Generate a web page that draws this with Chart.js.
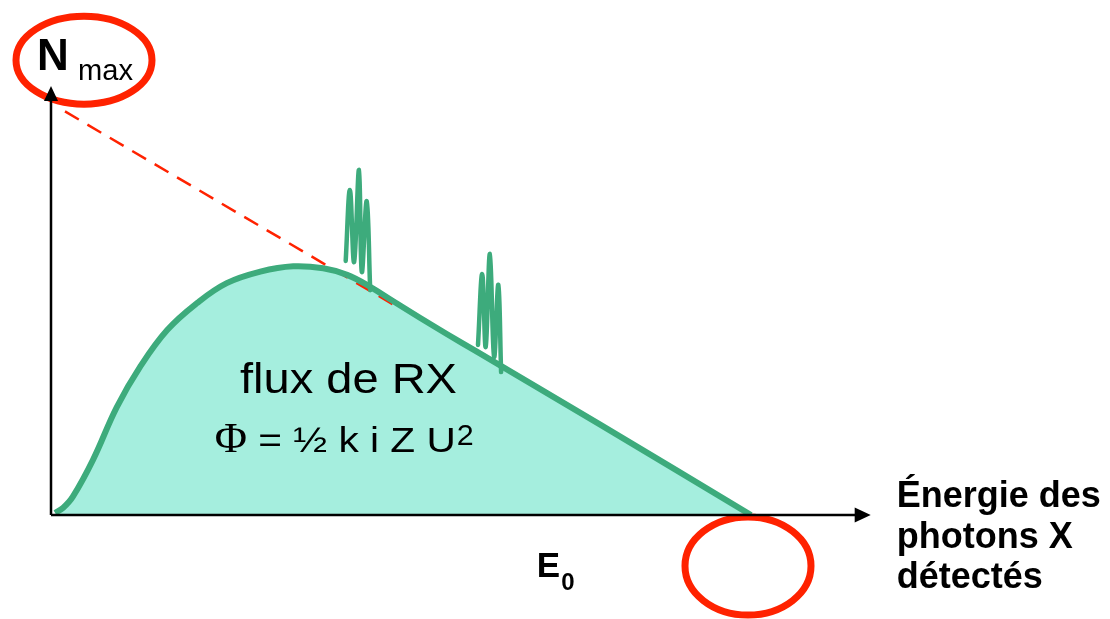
<!DOCTYPE html>
<html lang="fr">
<head>
<meta charset="utf-8">
<title>Spectre des photons X</title>
<script src="https://cdn.jsdelivr.net/npm/chart.js@4.4.1/dist/chart.umd.min.js"></script>
<style>
  html, body { margin: 0; padding: 0; background: #fff; }
  #wrap { width: 1110px; height: 619px; position: relative; }
</style>
</head>
<body>
<div id="wrap"><canvas id="spectrumChart"></canvas></div>
<script>
// Continuous (braking) spectrum: photon count vs energy, E0 = 100
const energy  = [0.6, 1.7, 3.1, 6.0, 9.4, 12.7, 16.6, 20.9, 25.1, 29.9, 34.6, 38.9, 42.3, 45.6, 48.9, 52.7, 56.6, 60.9, 78.4, 100];
const photons = [0.5, 1.7, 4.4, 13.4, 26.2, 35.9, 44.9, 51.5, 56.3, 59.1, 60.4, 59.9, 58.3, 55.4, 51.9, 47.9, 43.9, 39.6, 22.0, 0];

// Kramers line, dashed, from Nmax down to where it meets the curve
const kramersE = [2, 50];
const kramersN = [98, 50];

// Characteristic lines (two groups of three peaks)
const peaks1E = [42.1, 42.7, 43.3, 44.0, 44.4, 45.1, 45.6];
const peaks1N = [61.7, 78.9, 61.4, 83.8, 59.0, 76.2, 54.6];
const peaks2E = [61.0, 61.6, 62.1, 62.7, 63.3, 63.9, 64.3];
const peaks2N = [41.3, 58.5, 40.8, 63.4, 38.4, 55.9, 34.7];

const nMax = 100;
const e0 = 100;

const GREEN = '#3dab7c';
const FILL = '#a5eede';
const RED = '#ff2200';

const pts = (xs, ys) => xs.map((x, i) => ({ x: x, y: ys[i] }));

function drawText(ctx, str, x, y, font, sx, align) {
    ctx.save();
    ctx.font = font;
    ctx.textBaseline = 'alphabetic';
    ctx.textAlign = align || 'left';
    ctx.translate(x, y);
    ctx.scale(sx, 1);
    ctx.fillText(str, 0, 0);
    const w = ctx.measureText(str).width * sx;
    ctx.restore();
    return w;
}

function ellipse(ctx, cx, cy, rx, ry) {
    ctx.beginPath();
    ctx.ellipse(cx, cy, rx, ry, 0, 0, Math.PI * 2);
    ctx.stroke();
}

const sketch = {
    id: 'sketch',
    beforeDatasetsDraw(chart) {
        const ctx = chart.ctx;
        const xs = chart.scales.x, ys = chart.scales.y;
        ctx.save();
        ctx.strokeStyle = RED;
        ctx.lineWidth = 7;
        // around Nmax and around E0
        ellipse(ctx, xs.getPixelForValue(0) + 33, ys.getPixelForValue(nMax) - 43, 68, 44);
        ellipse(ctx, xs.getPixelForValue(e0) - 3, ys.getPixelForValue(0) + 51, 63, 49);
        ctx.restore();
    },
    afterDraw(chart) {
        const ctx = chart.ctx;
        const xs = chart.scales.x, ys = chart.scales.y;
        const x0 = xs.getPixelForValue(0), y0 = ys.getPixelForValue(0);
        const yTop = ys.getPixelForValue(104.2);
        const xEnd = xs.getPixelForValue(117.1);

        ctx.save();
        ctx.strokeStyle = '#000';
        ctx.fillStyle = '#000';
        ctx.lineWidth = 2.5;
        ctx.beginPath();
        ctx.moveTo(x0, y0);
        ctx.lineTo(x0, yTop + 12);
        ctx.moveTo(x0, y0);
        ctx.lineTo(xEnd - 14, y0);
        ctx.stroke();
        // arrow heads
        ctx.beginPath();
        ctx.moveTo(x0, yTop);
        ctx.lineTo(x0 - 7, yTop + 15);
        ctx.lineTo(x0 + 7, yTop + 15);
        ctx.closePath();
        ctx.fill();
        ctx.beginPath();
        ctx.moveTo(xEnd, y0);
        ctx.lineTo(xEnd - 16, y0 - 7.5);
        ctx.lineTo(xEnd - 16, y0 + 7.5);
        ctx.closePath();
        ctx.fill();

        // axis labels
        const yN = ys.getPixelForValue(nMax);
        drawText(ctx, 'N', x0 - 14, yN - 33, 'bold 44px "Liberation Sans", Arial, sans-serif', 1);
        drawText(ctx, 'max', x0 + 27, yN - 23, '30px "Liberation Sans", Arial, sans-serif', 0.97);

        const ex = xs.getPixelForValue(69.4);
        let w = drawText(ctx, 'E', ex, y0 + 62, 'bold 35px "Liberation Sans", Arial, sans-serif', 1);
        drawText(ctx, '0', ex + w + 1, y0 + 75, 'bold 24px "Liberation Sans", Arial, sans-serif', 1);

        const bold36 = 'bold 36px "Liberation Sans", Arial, sans-serif';
        drawText(ctx, 'Énergie des', xEnd + 26, y0 - 8, bold36, 1);
        drawText(ctx, 'photons X', xEnd + 26, y0 + 33, bold36, 1);
        drawText(ctx, 'détectés', xEnd + 26, y0 + 73, bold36, 1);

        // labels inside the area
        drawText(ctx, 'flux de RX', xs.getPixelForValue(58.0), ys.getPixelForValue(29.6),
            '42px "Liberation Sans", Arial, sans-serif', 1.12, 'right');
        let fx = xs.getPixelForValue(23.4);
        const fy = ys.getPixelForValue(15.3);
        fx += drawText(ctx, 'Φ', fx, fy, '42px "Liberation Serif", "Times New Roman", serif', 1.05);
        fx += drawText(ctx, ' = ½ k i Z U', fx, fy, '35px "Liberation Sans", Arial, sans-serif', 1.16);
        drawText(ctx, '2', fx + 1, fy - 7, '29px "Liberation Sans", Arial, sans-serif', 1.05);
        ctx.restore();
    }
};

new Chart(document.getElementById('spectrumChart').getContext('2d'), {
    type: 'line',
    data: {
        datasets: [
            {
                label: 'Pics',
                data: pts(peaks1E, peaks1N),
                borderColor: GREEN,
                borderWidth: 4.5,
                tension: 0.4,
                borderCapStyle: 'round',
                borderJoinStyle: 'round',
                pointRadius: 0,
                fill: false,
                order: 1
            },
            {
                label: 'Pics 2',
                data: pts(peaks2E, peaks2N),
                borderColor: GREEN,
                borderWidth: 4.5,
                tension: 0.4,
                borderCapStyle: 'round',
                borderJoinStyle: 'round',
                pointRadius: 0,
                fill: false,
                order: 1
            },
            {
                label: 'Spectre continu',
                data: pts(energy, photons),
                borderColor: GREEN,
                backgroundColor: FILL,
                borderWidth: 6,
                tension: 0.4,
                pointRadius: 0,
                fill: 'origin',
                order: 2
            },
            {
                label: 'Kramers',
                data: pts(kramersE, kramersN),
                borderColor: RED,
                borderWidth: 2.5,
                borderDash: [16, 10],
                pointRadius: 0,
                fill: false,
                order: 3
            }
        ]
    },
    options: {
        responsive: true,
        maintainAspectRatio: false,
        animation: false,
        layout: { padding: { left: 51, right: 219, top: 62, bottom: 104 } },
        scales: {
            x: { type: 'linear', min: 0, max: 120, display: false },
            y: { type: 'linear', min: 0, max: 110, display: false }
        },
        plugins: {
            legend: { display: false },
            tooltip: { enabled: false },
            filler: { drawTime: 'beforeDatasetsDraw' }
        }
    },
    plugins: [sketch]
});
</script>
</body>
</html>
